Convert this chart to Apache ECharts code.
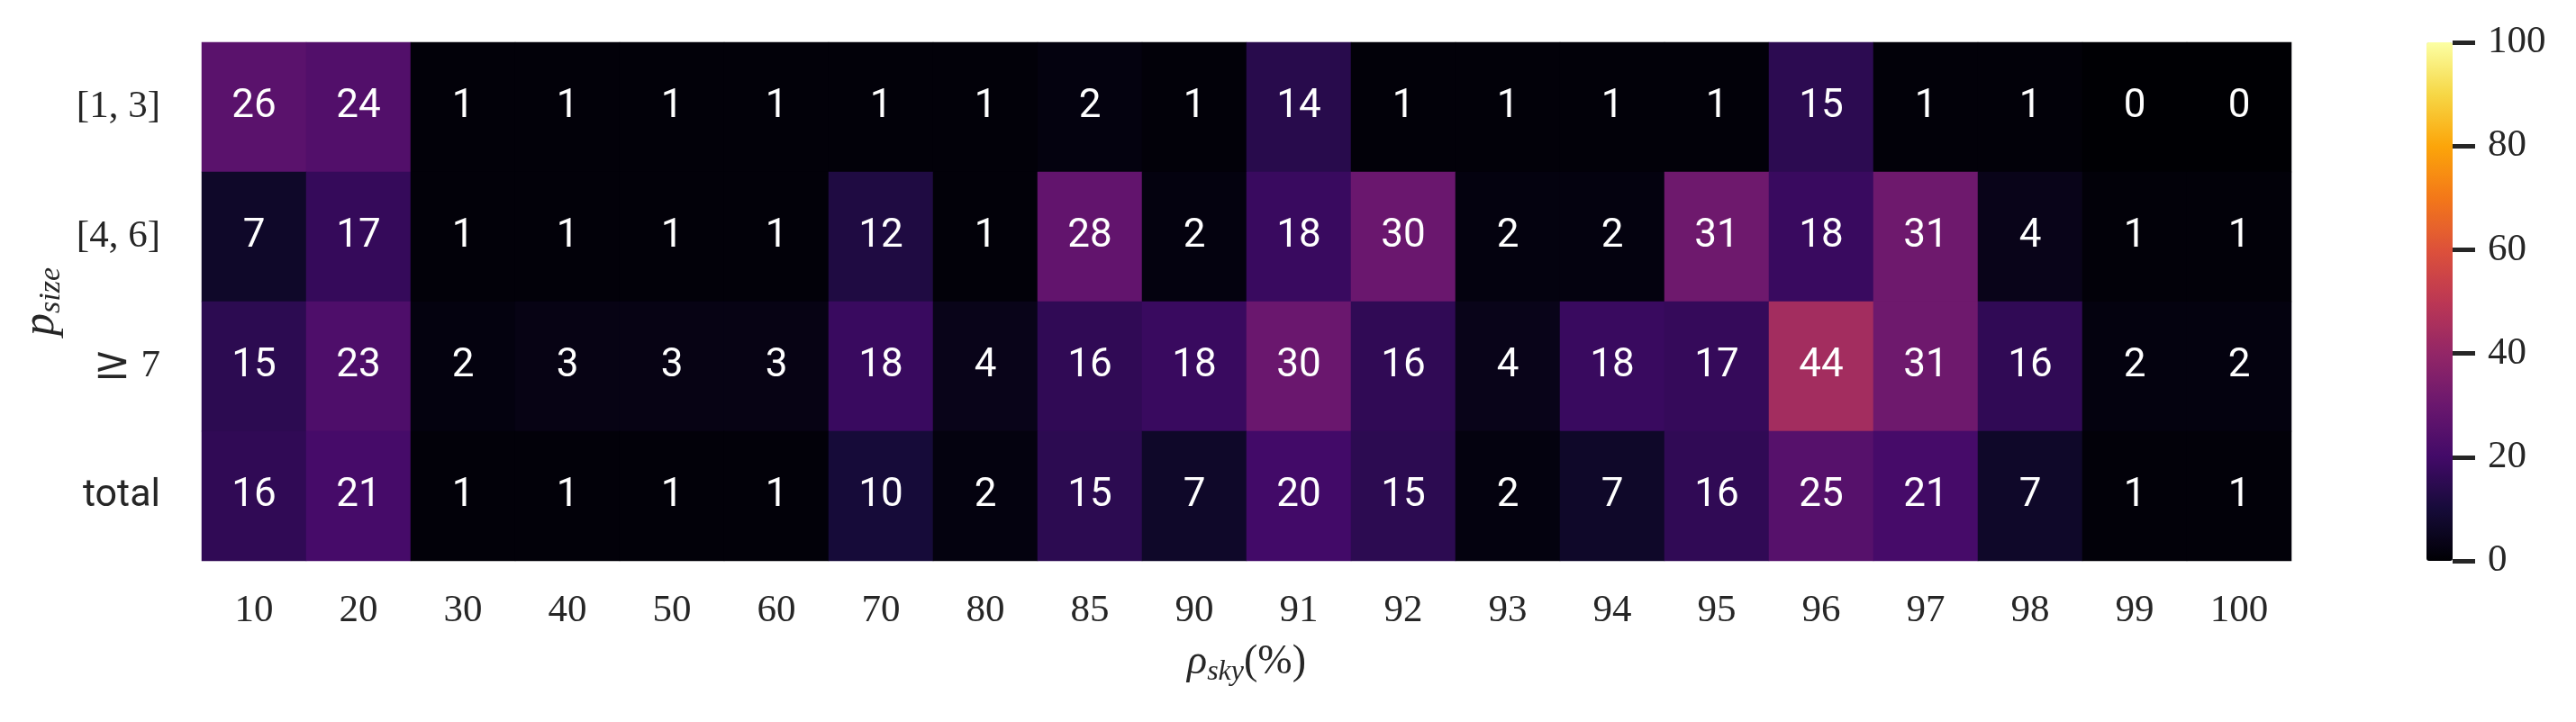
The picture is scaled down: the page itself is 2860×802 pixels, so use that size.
<!DOCTYPE html>
<html>
<head>
<meta charset="utf-8">
<script src="https://cdn.jsdelivr.net/npm/echarts@6/dist/echarts.min.js"></script>
<style>
html,body{margin:0;padding:0;background:#fff;}
#c{width:2860px;height:802px;}
</style>
</head>
<body>
<div id="c"></div>
<script>
const xLabels = ['10','20','30','40','50','60','70','80','85','90','91','92','93','94','95','96','97','98','99','100'];
const yLabels = ['[1, 3]','[4, 6]','\u2265 7','total'];
const row13 = [26,24,1,1,1,1,1,1,2,1,14,1,1,1,1,15,1,1,0,0];
const row46 = [7,17,1,1,1,1,12,1,28,2,18,30,2,2,31,18,31,4,1,1];
const rowGe7 = [15,23,2,3,3,3,18,4,16,18,30,16,4,18,17,44,31,16,2,2];
const rowTotal = [16,21,1,1,1,1,10,2,15,7,20,15,2,7,16,25,21,7,1,1];
const colorbarTicks = [0,20,40,60,80,100];
const infernoStops = ['#000004','#160b39','#420a68','#6a176e','#932667','#bc3754','#dd513a','#f37819','#fca50a','#f6d746','#fcffa4'];

const rows = [row13, row46, rowGe7, rowTotal];
const data = [];
rows.forEach((r, yi) => r.forEach((v, xi) => data.push([xi, yi, v])));

const serif = 'Liberation Serif';
const sans = "'Liberation Sans Narrow', Roboto";
const txt = '#262626';

function yLabelFmt(v) {
  if (v === 'total') return '{s|' + v + '}';
  if (v.charAt(0) === '\u2265') return '{g|\u2265}{m|' + v.slice(1) + '}';
  return '{m|' + v + '}';
}

const chart = echarts.init(document.getElementById('c'), null, {renderer: 'canvas'});
chart.setOption({
  backgroundColor: '#ffffff',
  animation: false,
  grid: [
    {left: 224, top: 47, width: 2320, height: 576},
    {left: 2694, top: 47, width: 29, height: 576}
  ],
  xAxis: [
    {
      type: 'category', gridIndex: 0, data: xLabels,
      axisLine: {show: false}, axisTick: {show: false}, splitLine: {show: false},
      axisLabel: {fontFamily: serif, fontSize: 43, color: txt, margin: 34},
      name: '{r|\u03c1}{s|sky}{n|(%)}',
      nameLocation: 'middle', nameGap: 86,
      nameTextStyle: {
        color: txt,
        rich: {
          r: {fontFamily: serif, fontStyle: 'italic', fontSize: 46, color: txt},
          s: {fontFamily: serif, fontStyle: 'italic', fontSize: 32, color: txt, padding: [22, 0, 0, 0]},
          n: {fontFamily: serif, fontSize: 46, color: txt}
        }
      }
    },
    {type: 'value', gridIndex: 1, show: false, min: 0, max: 1}
  ],
  yAxis: [
    {
      type: 'category', gridIndex: 0, data: yLabels, inverse: true,
      axisLine: {show: false}, axisTick: {show: false}, splitLine: {show: false},
      axisLabel: {
        margin: 46, color: txt,
        formatter: yLabelFmt,
        rich: {
          m: {fontFamily: serif, fontSize: 43, color: txt},
          g: {fontFamily: 'DejaVu Serif', fontSize: 50, color: txt},
          s: {fontFamily: sans, fontSize: 43, color: txt}
        }
      },
      name: '{p|p}{s|size}',
      nameLocation: 'middle', nameGap: 150, nameRotate: 90,
      nameTextStyle: {
        color: txt,
        rich: {
          p: {fontFamily: serif, fontStyle: 'italic', fontSize: 50, color: txt},
          s: {fontFamily: serif, fontStyle: 'italic', fontSize: 34, color: txt, padding: [22, 0, 0, 0]}
        }
      }
    },
    {
      type: 'value', gridIndex: 1, position: 'right', min: 0, max: 100, interval: 20,
      axisLine: {show: false, onZero: false},
      axisTick: {show: true, inside: false, length: 25, lineStyle: {color: txt, width: 5}},
      splitLine: {show: false},
      axisLabel: {fontFamily: serif, fontSize: 43, color: txt, margin: 39,
        formatter: function (v) { return colorbarTicks.indexOf(v) >= 0 ? String(v) : ''; }}
    }
  ],
  visualMap: {
    type: 'continuous', min: 0, max: 100, calculable: false,
    orient: 'vertical', left: 2694, top: 47, itemWidth: 29, itemHeight: 576,
    padding: 0, text: ['', ''], showLabel: false,
    inRange: {color: infernoStops},
    seriesIndex: 0
  },
  series: [{
    type: 'heatmap', xAxisIndex: 0, yAxisIndex: 0, data: data,
    itemStyle: {borderWidth: 0},
    label: {show: true, color: '#ffffff', fontFamily: sans, fontSize: 44,
      formatter: function (p) { return String(p.value[2]); }},
    emphasis: {disabled: true}
  }]
});
</script>
</body>
</html>
